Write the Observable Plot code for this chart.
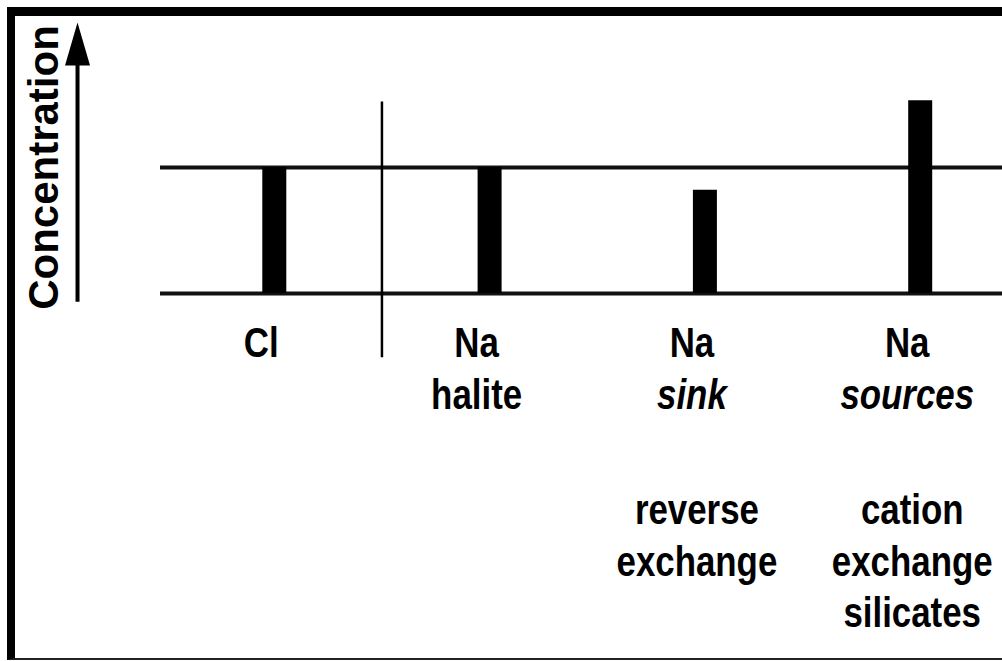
<!DOCTYPE html>
<html>
<head>
<meta charset="utf-8">
<script src="https://cdn.jsdelivr.net/npm/d3@7"></script>
<script src="https://cdn.jsdelivr.net/npm/@observablehq/plot@0.6"></script>
<style>
  html, body { margin: 0; padding: 0; background: #fff; }
  #wrap { position: relative; width: 1002px; height: 661px; overflow: hidden; }
  #border {
    position: absolute; left: 7px; top: 7px; right: -10px; height: 642px;
    border-top: 9px solid #000; border-left: 8px solid #000; border-bottom: 2px solid #222;
    pointer-events: none;
  }
</style>
</head>
<body>
<div id="wrap"><div id="border"></div></div>
<script>
// Ion categories and their schematic concentrations (relative to the Cl level = 1)
const categories = ["Cl", "Na", "Na", "Na"];
const qualifiers = ["", "halite", "sink", "sources"];
const values = [1, 1, 0.82, 1.53];
const processes = ["", "", "reverse\nexchange", "cation\nexchange\nsilicates"];
const levels = [0, 1];            // baseline and Cl reference level
const dividerSpan = [-0.51, 1.52]; // vertical separator between Cl and Na
const arrowSpan = [-0.07, 1.85];   // concentration arrow shaft
const arrowTip = 2.15;
const axisTitle = "Concentration";

const table = categories.map((name, i) => ({
  i, name, qual: qualifiers[i], value: values[i], proc: processes[i]
}));

const font = "Liberation Sans, Arial, Helvetica, sans-serif";
const arrowX = -0.914;
const titleX = -1.067;
const condense = 0.83; // labels in the reference are set in a condensed face

const head = {
  draw(ctx) {
    ctx.moveTo(0, 0);
    ctx.lineTo(12.5, 43);
    ctx.lineTo(-12.5, 43);
    ctx.closePath();
  }
};

const labelStyle = {
  fontSize: 42, fontWeight: "bold", fontFamily: font, fill: "#000", lineAnchor: "top"
};

const plot = Plot.plot({
  width: 1002,
  height: 661,
  marginLeft: 160,
  marginRight: 0,
  marginTop: 0,
  marginBottom: 0,
  style: { fontFamily: font, background: "transparent", color: "#000" },
  x: { type: "linear", domain: [0, 3], range: [273.8, 919.7], axis: null },
  y: { type: "linear", domain: [0, 1], range: [293, 167], axis: null },
  marks: [
    Plot.ruleY(levels, { y: d => d, stroke: "#111", strokeWidth: 4 }),
    Plot.ruleX(table, { x: "i", y1: 0, y2: "value", stroke: "#000", strokeWidth: 24 }),
    Plot.ruleX([0.5], { x: d => d, y1: dividerSpan[0], y2: dividerSpan[1], stroke: "#000", strokeWidth: 2.5 }),
    Plot.text(table, { x: "i", y: 0, text: "name", dx: -13, dy: 34, ...labelStyle }),
    Plot.text(table.filter(d => d.qual === "halite"), { x: "i", y: 0, text: "qual", dx: -13, dy: 86, ...labelStyle }),
    Plot.text(table.filter(d => d.qual === "sink" || d.qual === "sources"), {
      x: "i", y: 0, text: "qual", dx: -13, dy: 86, fontStyle: "italic", ...labelStyle
    }),
    Plot.text(table.filter(d => d.proc), {
      x: "i", y: 0, text: "proc", dx: -8, dy: 194, lineHeight: 1.23, ...labelStyle
    }),
    Plot.ruleX([arrowX], { x: d => d, y1: arrowSpan[0], y2: arrowSpan[1], stroke: "#000", strokeWidth: 4 }),
    Plot.dot([arrowX], { x: d => d, y: arrowTip, symbol: head, fill: "#000", stroke: null, r: 10 }),
    Plot.text([axisTitle], {
      x: titleX, y: 1, text: d => d, rotate: -90, textAnchor: "middle", lineAnchor: "middle",
      fontSize: 42, fontWeight: "bold", fontFamily: font, fill: "#000"
    })
  ]
});

// condense the category labels horizontally around their own anchor point
plot.querySelectorAll("text").forEach(el => {
  if (el.textContent === axisTitle) return;
  const t = el.getAttribute("transform");
  if (t) {
    el.setAttribute("transform", `${t} scale(${condense},1)`);
  } else {
    const x = +(el.getAttribute("x") || 0);
    el.setAttribute("transform", `translate(${x},0) scale(${condense},1) translate(${-x},0)`);
  }
});

document.getElementById("wrap").insertBefore(plot, document.getElementById("border"));
</script>
</body>
</html>
